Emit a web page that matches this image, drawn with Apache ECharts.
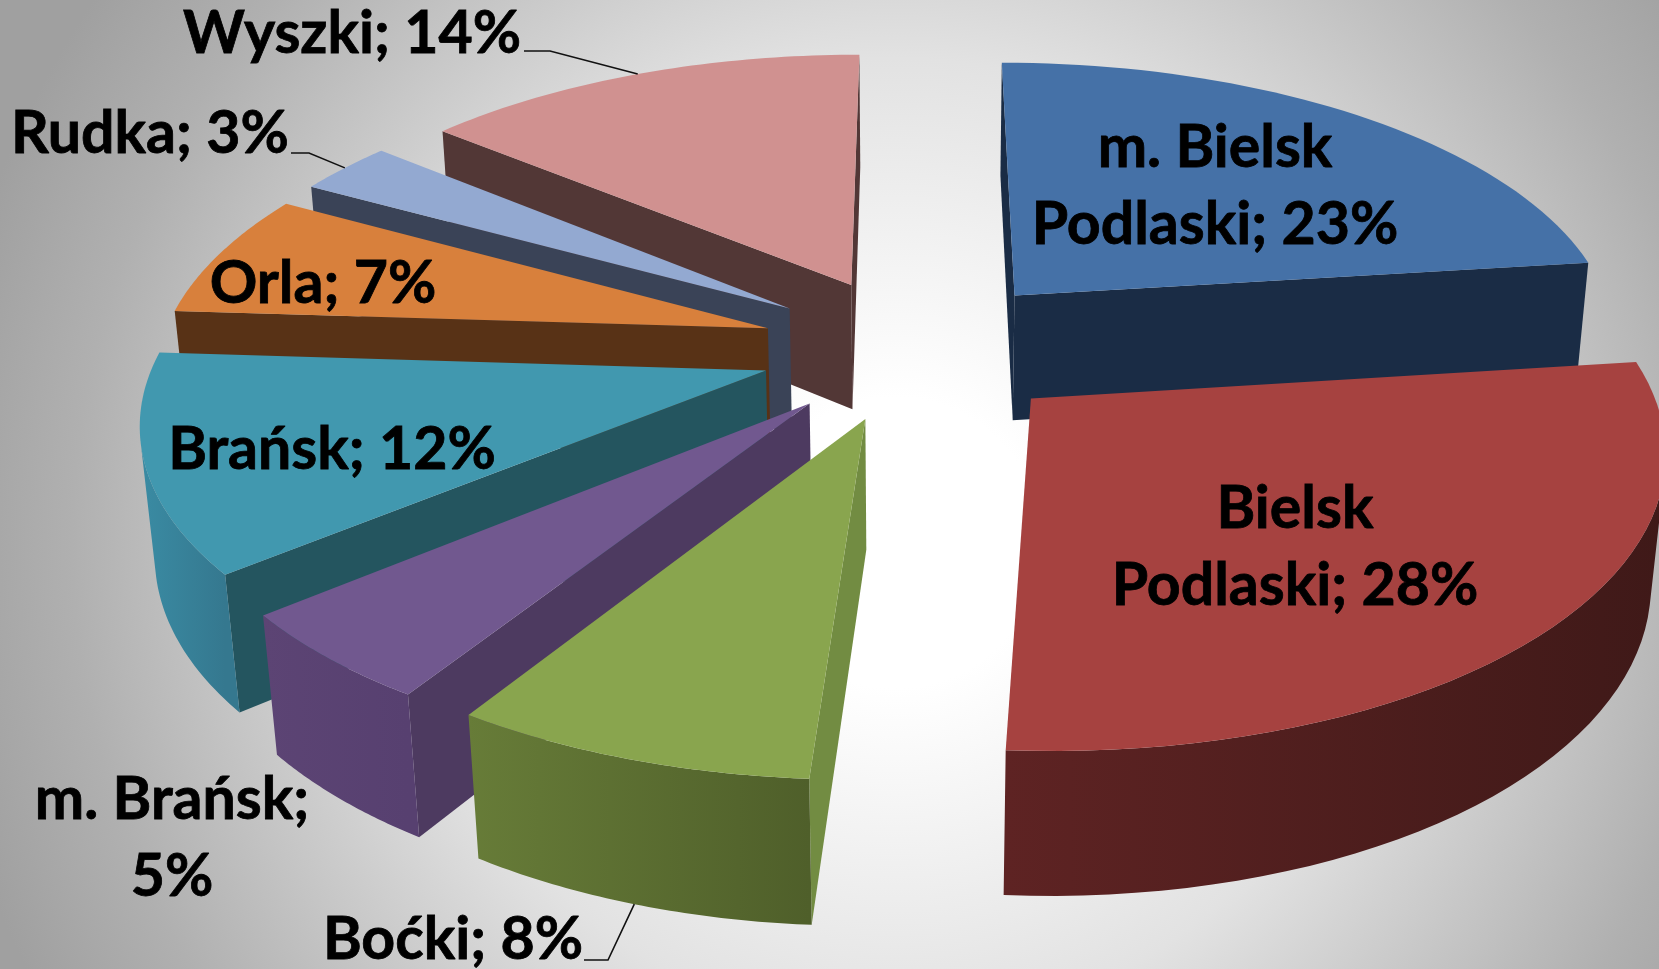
<!DOCTYPE html>
<html><head><meta charset="utf-8">
<style>html,body{margin:0;padding:0;width:100%;height:100%;overflow:hidden}#c{width:1659px;height:969px}</style>
<script src="https://cdn.jsdelivr.net/npm/echarts@6/dist/echarts.min.js"></script>
</head><body><div id="c"></div>
<script>
// ---- data ----
const categories = ['m. Bielsk Podlaski','Bielsk Podlaski','Boćki','m. Brańsk','Brańsk','Orla','Rudka','Wyszki'];
const shares = [23,28,8,5,12,7,3,14];
const breakBefore = ['Podlaski','Podlaski',null,'5%',null,null,null,null];
// ---- styles ----
const topColors  = ['#4571a7','#a64240','#89a54e','#71588f','#4198af','#d8803c','#93a9d1','#d09190'];
const sideColors = ['#1a2c45','#421a18','#728c42','#4d3a60','#24555f','#583216','#3a4357','#523736'];
const rimFrom    = ['#1a2c45','#5e2323','#677c38','#5c4474','#3a8ba3','#583216','#3a4357','#523736'];
const rimTo      = ['#1a2c45','#3f1918','#4f5f2a','#574070','#35788f','#583216','#3a4357','#523736'];
const labelAt = [[1215,186],[1295,547],[453,940],[172,838],[332,450],[323,284],[150,134],[352,34]];
const leaderFrom = [null,null,[[584,960],[608,960]],null,null,null,[[291,153],[309,153]],[[524,51],[550,51]]];
const leaderDepth = [0,0,1,0,0,0,0,0];
// ---- projection ----
const CAM = {cx:915, cy:348, F:3575, D:1, tilt:27.7*Math.PI/180, R:0.17, explode:0.0433, h:0.041};
const sinT=Math.sin(CAM.tilt), cosT=Math.cos(CAM.tilt);
function project(X,Y,Z){
  const d=CAM.D+Y*cosT-Z*sinT;
  return [CAM.cx+CAM.F*X/d, CAM.cy-CAM.F*(Y*sinT+Z*cosT)/d];
}
const total=shares.reduce((a,b)=>a+b,0);
function area(p){let s=0;for(let i=0;i<p.length;i++){const a=p[i],b=p[(i+1)%p.length];s+=a[0]*b[1]-b[0]*a[1];}return s;}

function renderItem(params,api){
  const i=api.value(0), v=api.value(1);
  let before=0; for(let k=0;k<i;k++) before+=shares[k];
  const a1=before/total*2*Math.PI, a2=(before+v)/total*2*Math.PI, mid=(a1+a2)/2;
  const ex=CAM.explode*Math.sin(mid), ey=CAM.explode*Math.cos(mid);
  const rim=(t,z)=>project(ex+CAM.R*Math.sin(t),ey+CAM.R*Math.cos(t),z);
  const apexT=project(ex,ey,0), apexB=project(ex,ey,-CAM.h);
  const z2=Math.round((1-Math.cos(mid))*100)*10+10;
  const camY=-CAM.D*cosT;
  const n=48, top=[apexT], wallTop=[], wallBot=[];
  for(let k=0;k<=n;k++){
    const t=a1+(a2-a1)*k/n;
    top.push(rim(t,0));
    const px=ex+CAM.R*Math.sin(t), py=ey+CAM.R*Math.cos(t);
    if(Math.sin(t)*(0-px)+Math.cos(t)*(camY-py)>0){wallTop.push(rim(t,0));wallBot.push(rim(t,-CAM.h));}
  }
  const ch=[];
  const startWall=[apexT,rim(a1,0),rim(a1,-CAM.h),apexB], endWall=[apexT,rim(a2,0),rim(a2,-CAM.h),apexB];
  if(area(startWall)<0) ch.push({type:'polygon',z2:z2,shape:{points:startWall},style:{fill:sideColors[i]}});
  if(area(endWall)>0) ch.push({type:'polygon',z2:z2,shape:{points:endWall},style:{fill:sideColors[i]}});
  if(wallTop.length>1){
    const xs=wallTop.map(p=>p[0]);
    ch.push({type:'polygon',z2:z2+1,shape:{points:wallTop.concat(wallBot.slice().reverse())},
      style:{fill:new echarts.graphic.LinearGradient(Math.min(...xs),0,Math.max(...xs),0,
        [{offset:0,color:rimFrom[i]},{offset:1,color:rimTo[i]}],true)}});
  }
  ch.push({type:'polygon',z2:z2+2,shape:{points:top},style:{fill:topColors[i]}});
  // label
  let text=categories[i]+'; '+v+'%';
  if(breakBefore[i]) text=text.replace(' '+breakBefore[i],'\n'+breakBefore[i]);
  ch.push({type:'text',z2:5000,x:labelAt[i][0],y:labelAt[i][1],
    style:{text:text,fill:'#000',stroke:'#000',lineWidth:0.8,font:'bold 59px Lato',align:'center',verticalAlign:'middle',lineHeight:77}});
  if(leaderFrom[i]){
    const end=rim(mid,leaderDepth[i]?-CAM.h:0);
    ch.push({type:'polyline',z2:4000,shape:{points:leaderFrom[i].concat([end])},style:{fill:'none',stroke:'#111',lineWidth:1.6}});
  }
  return {type:'group',children:ch};
}
const chart=echarts.init(document.getElementById('c'),null,{renderer:'canvas',width:1659,height:969});
chart.setOption({
  animation:false,
  backgroundColor:new echarts.graphic.RadialGradient(0.54,0.56,1.0,[
    {offset:0,color:'#ffffff'},{offset:0.15,color:'#ffffff'},{offset:0.5,color:'#e2e2e2'},{offset:0.85,color:'#b0b0b0'},{offset:1,color:'#a0a0a0'}]),
  series:[{type:'custom',coordinateSystem:'none',silent:true,clip:false,renderItem:renderItem,
    data:shares.map((v,i)=>[i,v])}]
});
</script></body></html>
